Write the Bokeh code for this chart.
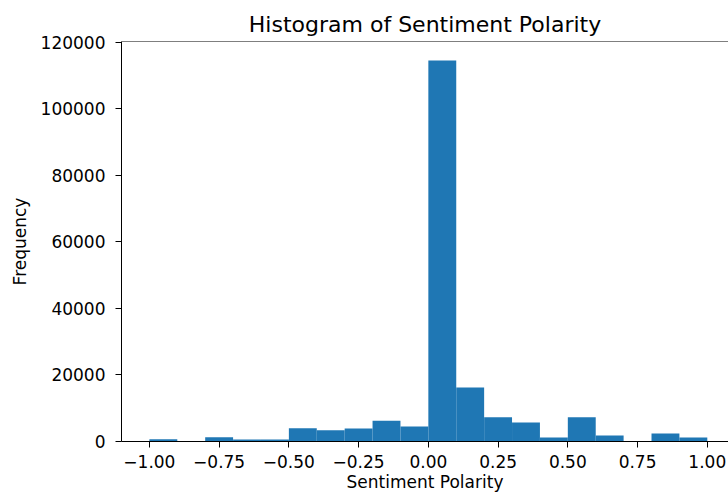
import numpy as np
from bokeh.plotting import figure
from bokeh.models import FixedTicker, CustomJSTickFormatter, Range1d, Span
from bokeh.embed import file_html
from bokeh.resources import INLINE

# ---- data ----
bin_edges = [-1.0, -0.9, -0.8, -0.7, -0.6, -0.5, -0.4, -0.3, -0.2, -0.1, 0.0,
             0.1, 0.2, 0.3, 0.4, 0.5, 0.6, 0.7, 0.8, 0.9, 1.0]
counts = [700, 0, 1300, 600, 600, 4000, 3400, 3900, 6200, 4500,
          114500, 16200, 7300, 5700, 1200, 7300, 1800, 0, 2400, 1200]
x_ticks = [-1.0, -0.75, -0.5, -0.25, 0.0, 0.25, 0.5, 0.75, 1.0]
x_tick_labels = ["\u22121.00", "\u22120.75", "\u22120.50", "\u22120.25", "0.00",
                 "0.25", "0.50", "0.75", "1.00"]
y_ticks = [0, 20000, 40000, 60000, 80000, 100000, 120000]
y_tick_labels = ["0", "20000", "40000", "60000", "80000", "100000", "120000"]

FONT = "DejaVu Sans"
BAR = "#1f77b4"

y_top = max(counts) * 1.05

p = figure(width=728, height=496, output_backend="svg", toolbar_location=None,
           x_range=Range1d(-1.1, 1.076), y_range=Range1d(0, y_top),
           min_border_left=121, min_border_right=0, min_border_top=41,
           min_border_bottom=55,
           title="Histogram of Sentiment Polarity")

p.quad(left=bin_edges[:-1], right=bin_edges[1:], bottom=0, top=counts,
       fill_color=BAR, line_color=None)

p.outline_line_color = None
p.add_layout(Span(location=y_top, dimension="width", line_color="black",
                  line_width=1))
p.xgrid.visible = False
p.ygrid.visible = False

p.title.align = "center"
p.title.offset = 5
p.title.standoff = 10
p.title.text_font = FONT
p.title.text_font_size = "22px"
p.title.text_font_style = "normal"
p.title.text_color = "#000000"

fmt_js = ("const i = tvals.findIndex(t => Math.abs(t - tick) < 1e-9); "
          "return i >= 0 ? tlabels[i] : '';")
p.xaxis.ticker = FixedTicker(ticks=x_ticks)
p.xaxis.formatter = CustomJSTickFormatter(
    args=dict(tvals=x_ticks, tlabels=x_tick_labels), code=fmt_js)
p.yaxis.ticker = FixedTicker(ticks=y_ticks)
p.yaxis.formatter = CustomJSTickFormatter(
    args=dict(tvals=y_ticks, tlabels=y_tick_labels), code=fmt_js)

p.xaxis.axis_label = "Sentiment Polarity"
p.yaxis.axis_label = "Frequency"

for ax in (p.xaxis[0], p.yaxis[0]):
    ax.axis_line_color = "black"
    ax.axis_line_width = 1
    ax.major_tick_line_color = "black"
    ax.major_tick_line_width = 1
    ax.major_tick_out = 6
    ax.major_tick_in = 0
    ax.minor_tick_line_color = None
    ax.major_label_text_font = FONT
    ax.major_label_text_font_size = "17px"
    ax.major_label_text_color = "#000000"
    ax.axis_label_text_font = FONT
    ax.axis_label_text_font_size = "17px"
    ax.axis_label_text_font_style = "normal"
    ax.axis_label_text_color = "#000000"

p.xaxis.major_label_standoff = 7
p.xaxis.axis_label_standoff = 1
p.yaxis.major_label_standoff = 10
p.yaxis.axis_label_standoff = 8

open("out.html", "w").write(file_html(p, INLINE))
